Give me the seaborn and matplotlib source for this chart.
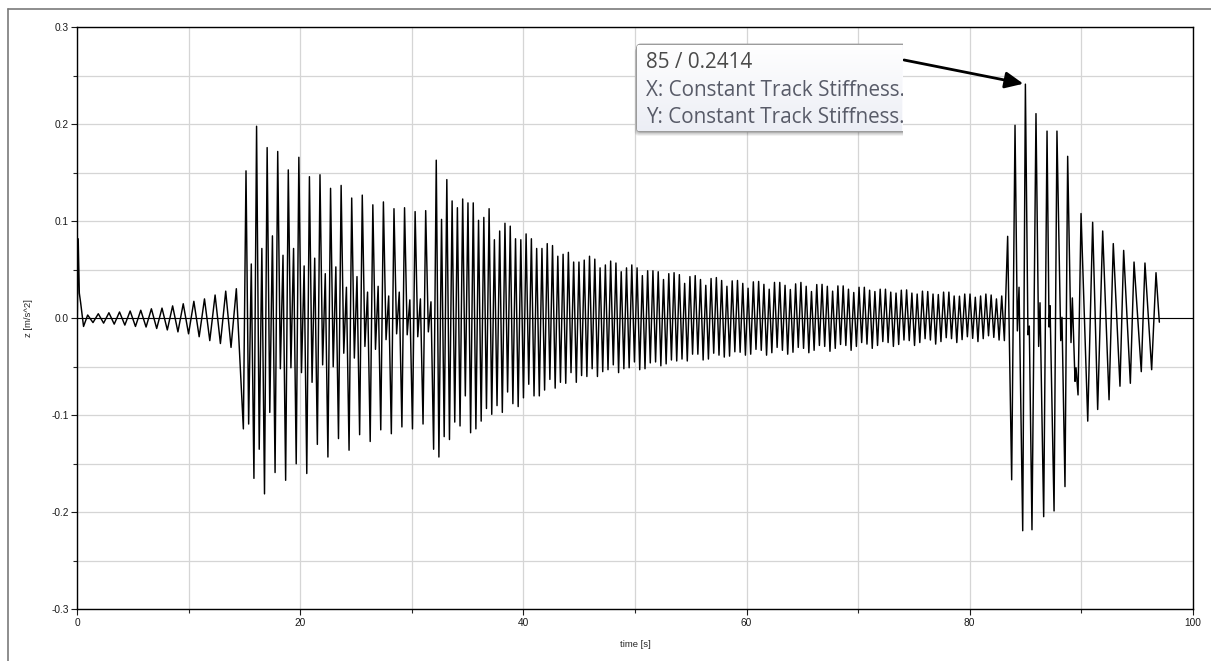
import numpy as np
import pandas as pd
import matplotlib
matplotlib.use("Agg")
import matplotlib.pyplot as plt
import seaborn as sns
from matplotlib.patches import FancyBboxPatch
from matplotlib.lines import Line2D
from matplotlib.transforms import IdentityTransform, Bbox
from matplotlib.ticker import MultipleLocator, FormatStrFormatter

# ---------------------------------------------------------------------------
# Vertical car-body acceleration z [m/s^2] over time [s]
# ---------------------------------------------------------------------------

# start-up transient
START_T = [0.0, 0.08, 0.18, 0.30, 0.56]
START_Z = [0.0, 0.082, 0.026, 0.016, -0.0084]

# slowly growing oscillation before the first stiffness change (one period = 0.952 s)
RAMP_T0 = 0.93
RAMP_PERIOD = 0.952
RAMP_PEAKS = [0.0034, 0.0047, 0.0057, 0.0065, 0.0075, 0.0083, 0.0098, 0.0105,
              0.0128, 0.0150, 0.0175, 0.0200, 0.0240, 0.0280, 0.0305]
RAMP_TROUGHS = [-0.0044, -0.0050, -0.0060, -0.0070, -0.0084, -0.0090, -0.0105,
                -0.0120, -0.0140, -0.0160, -0.0190, -0.0230, -0.0260, -0.0300]

# main excitation: a peak every 0.4738 s, a trough half-way in between
MAIN_T0 = 15.125
MAIN_HALF = 0.4738
MAIN_PEAKS = [
    0.152, 0.056, 0.198, 0.072, 0.176, 0.085, 0.172, 0.065, 0.153, 0.072,
    0.166, 0.054, 0.146, 0.062, 0.148, 0.046, 0.134, 0.053, 0.137, 0.032,
    0.124, 0.043, 0.127, 0.027, 0.117, 0.033, 0.120, 0.023, 0.113, 0.027,
    0.114, 0.019, 0.110, 0.020, 0.111, 0.017, 0.163, 0.102, 0.143, 0.121,
    0.114, 0.123, 0.119,
    0.119, 0.101, 0.104, 0.113, 0.081, 0.090, 0.098, 0.095, 0.082, 0.081,
    0.087, 0.082, 0.072, 0.072, 0.077, 0.075, 0.064, 0.066, 0.068, 0.058,
    0.058, 0.060, 0.064, 0.061, 0.052, 0.055, 0.059, 0.057, 0.048, 0.052,
    0.055, 0.052, 0.044, 0.049, 0.049, 0.048, 0.040, 0.046, 0.047, 0.045,
    0.036, 0.043, 0.044, 0.040, 0.034, 0.041, 0.042, 0.039, 0.033,
    0.0386, 0.039, 0.036, 0.031, 0.0376, 0.038, 0.035, 0.030, 0.037, 0.037,
    0.034, 0.0297, 0.0355, 0.037, 0.033, 0.0276, 0.0348, 0.035, 0.033, 0.028,
    0.0334, 0.0334, 0.030, 0.0266, 0.032, 0.032, 0.029, 0.0276, 0.030, 0.030,
    0.027, 0.026, 0.029, 0.0293, 0.026, 0.025, 0.028, 0.0276, 0.025, 0.0245,
    0.027, 0.027, 0.023, 0.0228, 0.025, 0.025, 0.0217, 0.023, 0.025, 0.024,
    0.020, 0.023,
]
MAIN_TROUGHS = [
    -0.114, -0.109, -0.165, -0.135, -0.181, -0.097, -0.159, -0.052, -0.167, -0.051,
    -0.150, -0.056, -0.160, -0.066, -0.130, -0.048, -0.143, -0.050, -0.124, -0.036,
    -0.136, -0.041, -0.120, -0.029, -0.127, -0.032, -0.115, -0.022, -0.119, -0.016,
    -0.112, -0.017, -0.114, -0.019, -0.109, -0.014, -0.135, -0.143, -0.122, -0.125,
    -0.107, -0.111, -0.080,
    -0.118, -0.114, -0.106, -0.093, -0.099, -0.090, -0.097, -0.076, -0.088, -0.091,
    -0.082, -0.068, -0.080, -0.080, -0.074, -0.063, -0.072, -0.066, -0.067, -0.056,
    -0.066, -0.059, -0.060, -0.052, -0.060, -0.055, -0.053, -0.048, -0.056, -0.052,
    -0.051, -0.045, -0.053, -0.052, -0.046, -0.045, -0.049, -0.047, -0.043, -0.044,
    -0.042, -0.044, -0.037, -0.037, -0.043, -0.042, -0.036, -0.038, -0.040, -0.039,
    -0.0345, -0.035, -0.038, -0.037, -0.032, -0.033, -0.038, -0.0355, -0.030, -0.033,
    -0.037, -0.035, -0.030, -0.031, -0.0355, -0.033, -0.028, -0.029, -0.034, -0.031,
    -0.027, -0.028, -0.033, -0.029, -0.025, -0.0266, -0.031, -0.028, -0.024, -0.025,
    -0.029, -0.027, -0.0224, -0.023, -0.028, -0.025, -0.021, -0.0224, -0.0266, -0.024,
    -0.020, -0.021, -0.025, -0.022, -0.019, -0.0207, -0.024, -0.021, -0.018, -0.0197,
    -0.0224, -0.023,
]

# second stiffness change near t = 83 s and the decay afterwards
TAIL_T = [83.41, 83.77, 84.07, 84.28, 84.43, 84.76, 85.00, 85.23, 85.35, 85.59,
          85.95, 86.19, 86.31, 86.64, 86.94, 87.12, 87.21, 87.57, 87.83, 88.17,
          88.28, 88.55, 88.79, 89.09, 89.21, 89.45, 89.54, 89.72, 89.99, 90.59,
          91.03, 91.48, 91.93, 92.50, 92.88, 93.48, 93.81, 94.41, 94.74, 95.39,
          95.72, 96.32, 96.71, 97.01]
TAIL_Z = [0.0845, -0.1665, 0.199, -0.013, 0.032, -0.219, 0.2414, -0.017, -0.008, -0.218,
          0.211, -0.029, 0.016, -0.2045, 0.193, -0.009, 0.013, -0.1986, 0.193, -0.023,
          0.001, -0.1735, 0.167, -0.025, 0.021, -0.065, -0.051, -0.079, 0.108, -0.106,
          0.099, -0.094, 0.090, -0.084, 0.077, -0.070, 0.070, -0.067, 0.058, -0.055,
          0.057, -0.053, 0.047, -0.004]

# marked extremum
MARK_T, MARK_Z = 85.0, 0.2414
MARK_TEXT = ["85 / 0.2414", "X: Constant Track Stiffness.", "Y: Constant Track Stiffness."]

X_LABEL = "time [s]"
Y_LABEL = "z [m/s^2]"

# ---------------------------------------------------------------------------
# assemble the time series
# ---------------------------------------------------------------------------
ramp_z = np.empty(len(RAMP_PEAKS) + len(RAMP_TROUGHS))
ramp_z[0::2] = RAMP_PEAKS
ramp_z[1::2] = RAMP_TROUGHS
ramp_t = RAMP_T0 + 0.5 * RAMP_PERIOD * np.arange(len(ramp_z))

main_z = np.empty(len(MAIN_PEAKS) + len(MAIN_TROUGHS))
main_z[0::2] = MAIN_TROUGHS
main_z[1::2] = MAIN_PEAKS
main_t = MAIN_T0 + MAIN_HALF * (np.arange(len(main_z)) / 2.0 - 0.5)

df = pd.DataFrame({
    "time": np.concatenate([START_T, ramp_t, main_t, TAIL_T]),
    "z": np.concatenate([START_Z, ramp_z, main_z, TAIL_Z]),
})

# ---------------------------------------------------------------------------
# figure
# ---------------------------------------------------------------------------
sns.set_style("ticks")
plt.rcParams["font.family"] = ["Liberation Sans", "DejaVu Sans"]
plt.rcParams["axes.unicode_minus"] = False

W, H = 1211, 661
fig = plt.figure(figsize=(W / 100, H / 100), dpi=100, facecolor="white")
ax = fig.add_axes([77.3 / W, 1 - 609.3 / H, (1192.7 - 77.3) / W, (609.3 - 27.3) / H])

ax.axhline(0, color="black", lw=0.8, zorder=1.5)
sns.lineplot(data=df, x="time", y="z", ax=ax, color="black", linewidth=1.05,
             estimator=None, sort=False, zorder=2)

ax.set_xlim(0, 100)
ax.set_ylim(-0.3, 0.3)
ax.xaxis.set_major_locator(MultipleLocator(20))
ax.xaxis.set_minor_locator(MultipleLocator(10))
ax.yaxis.set_major_locator(MultipleLocator(0.1))
ax.yaxis.set_minor_locator(MultipleLocator(0.05))
ax.xaxis.set_major_formatter(FormatStrFormatter("%d"))
ax.yaxis.set_major_formatter(FormatStrFormatter("%.1f"))
ax.grid(which="both", color="#d5d5d5", lw=0.9)
ax.set_axisbelow(True)

ax.tick_params(which="major", length=4, width=0.8, direction="out",
               labelsize=7.3, pad=2, colors="#1a1a1a")
ax.tick_params(which="minor", length=3, width=0.8, direction="out")
for sp in ax.spines.values():
    sp.set_color("black")
    sp.set_linewidth(1.0)

ax.set_xlabel(X_LABEL, fontsize=6.8, labelpad=9)
ax.set_ylabel(Y_LABEL, fontsize=6.8, labelpad=13)

# outer panel frame
frame_kw = dict(transform=IdentityTransform(), color="#7a7a7a", lw=1.2, zorder=10)
fig.add_artist(Line2D([8.3, W], [H - 9.3, H - 9.3], **frame_kw))
fig.add_artist(Line2D([8.3, 8.3], [0, H - 9.3], **frame_kw))

# ---------------------------------------------------------------------------
# tooltip for the marked extremum (pixel coordinates, cut off on the right)
# ---------------------------------------------------------------------------
bx0, btop, bbot, bclip = 636.7, 44.3, 131.7, 903.3
bw, bh = 290.0, bbot - btop
clip = Bbox.from_extents(0, 0, bclip, H)

for i in range(1, 5):
    sh = FancyBboxPatch((bx0 - 0.5 * i, H - bbot - i), bw, bh,
                        boxstyle="round,pad=0,rounding_size=4",
                        transform=IdentityTransform(), fc="black", ec="none",
                        alpha=0.07, zorder=5)
    sh.set_clip_box(clip)
    fig.add_artist(sh)

box = FancyBboxPatch((bx0, H - bbot), bw, bh, boxstyle="round,pad=0,rounding_size=4",
                     transform=IdentityTransform(), fc="#fafafd", ec="#9c9c9c",
                     lw=1.0, zorder=6)
box.set_clip_box(clip)
fig.add_artist(box)

# soft vertical fill gradient, limited to the visible part of the box
gw = int(bclip - bx0) - 1
gh = int(bh) - 1
grad = np.linspace(0, 1, gh)[:, None] * np.ones((1, gw))
top_c = np.array([1.0, 1.0, 1.0])
bot_c = np.array([0.925, 0.933, 0.960])
rgb = top_c[None, None, :] * (1 - grad[..., None]) + bot_c[None, None, :] * grad[..., None]
img = fig.figimage(rgb, xo=int(bx0) + 1, yo=int(H - bbot) + 1, origin="upper", zorder=6.5)
img.set_clip_path(box)

tfam = ["Open Sans", "DejaVu Sans"]
probe = fig.text(0, 0, MARK_TEXT[1], fontsize=12, family=tfam)
renderer = fig.canvas.get_renderer()
wpx = probe.get_window_extent(renderer).width
probe.remove()
tsize = 12 * 258.0 / wpx

colors = ["#4a4a4a", "#585b68", "#585b68"]
baselines = [68.3, 96.0, 123.3]
for s, c, yb in zip(MARK_TEXT, colors, baselines):
    t = fig.text(646.5, H - yb, s, transform=IdentityTransform(), fontsize=tsize,
                 family=tfam, color=c, ha="left", va="baseline", zorder=7)
    t.set_clip_box(clip)
    t.set_clip_on(True)

ax.annotate("", xy=(MARK_T, MARK_Z), xytext=(74.12, 0.2663),
            arrowprops=dict(arrowstyle="-|>,head_length=0.55,head_width=0.25",
                            color="black", lw=2.0, mutation_scale=20,
                            shrinkA=0, shrinkB=1.5),
            zorder=8, annotation_clip=False)

fig.savefig("out.png", dpi=100, facecolor="white")
